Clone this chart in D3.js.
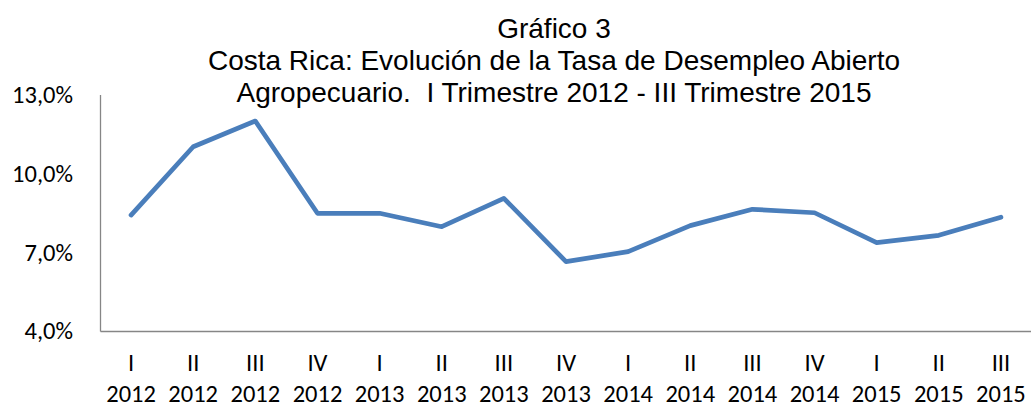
<!DOCTYPE html>
<html>
<head>
<meta charset="utf-8">
<script src="https://cdn.jsdelivr.net/npm/d3@7"></script>
<style>
  html, body { margin: 0; padding: 0; background: #ffffff; }
  svg { display: block; }
</style>
</head>
<body>
<svg id="chart" width="1031" height="408"></svg>
<script>
const quarters = ["I","II","III","IV","I","II","III","IV","I","II","III","IV","I","II","III"];
const years = ["2012","2012","2012","2012","2013","2013","2013","2013","2014","2014","2014","2014","2015","2015","2015"];
const rates = [8.41, 11.01, 11.99, 8.48, 8.48, 7.97, 9.05, 6.64, 7.02, 8.01, 8.63, 8.50, 7.36, 7.64, 8.33];
const yTicks = [4, 7, 10, 13];
const titleLines = ["Gráfico 3", "Costa Rica: Evolución de la Tasa de Desempleo Abierto", "Agropecuario.  I Trimestre 2012 - III Trimestre 2015"];

const svg = d3.select("#chart");
const plotLeft = 100, plotRight = 1032, plotTop = 94.5, plotBottom = 331;
const idx = d3.range(rates.length);

const x = d3.scaleBand().domain(idx).range([plotLeft, plotRight]).paddingInner(0).paddingOuter(0);
const y = d3.scaleLinear().domain([4, 13]).range([plotBottom, plotTop]);
const cx = i => x(i) + x.bandwidth() / 2;

// title
svg.append("g").selectAll("text").data(titleLines).join("text")
  .attr("x", 554)
  .attr("y", (d, i) => 38 + i * 31.8)
  .attr("text-anchor", "middle")
  .style("font-family", "'Liberation Sans', Arial, sans-serif")
  .style("font-size", "28px")
  .style("white-space", "pre")
  .attr("fill", "#000")
  .text(d => d);

// y axis
const yAxis = d3.axisLeft(y).tickValues(yTicks).tickSize(0).tickPadding(27)
  .tickFormat(d => d3.format(".1f")(d).replace(".", ",") + "%");
const gy = svg.append("g").attr("transform", `translate(${plotLeft},0)`).call(yAxis);
gy.select(".domain").attr("stroke", "#868686").attr("stroke-width", 1.3);
gy.selectAll("text")
  .style("font-family", "Carlito, Lato, sans-serif")
  .style("font-size", "24.5px")
  .attr("fill", "#000");

// x axis
const xAxis = d3.axisBottom(x).tickSize(0).tickFormat(() => "");
const gx = svg.append("g").attr("transform", `translate(0,${plotBottom})`).call(xAxis);
gx.select(".domain").attr("stroke", "#868686").attr("stroke-width", 1.3);

const lab = svg.append("g");
lab.selectAll("text.q").data(idx).join("text").attr("class", "q")
  .attr("x", d => cx(d)).attr("y", 371)
  .attr("text-anchor", "middle")
  .style("font-family", "Carlito, Lato, sans-serif")
  .style("font-size", "24.5px")
  .text(d => quarters[d]);
lab.selectAll("text.yr").data(idx).join("text").attr("class", "yr")
  .attr("x", d => cx(d)).attr("y", 401.5)
  .attr("text-anchor", "middle")
  .style("font-family", "Carlito, Lato, sans-serif")
  .style("font-size", "24.5px")
  .text(d => years[d]);

// line
const line = d3.line().x((d, i) => cx(i)).y(d => y(d));
svg.append("path").datum(rates)
  .attr("d", line)
  .attr("fill", "none")
  .attr("stroke", "#4a7ebb")
  .attr("stroke-width", 4.7)
  .attr("stroke-linejoin", "round")
  .attr("stroke-linecap", "round");
</script>
</body>
</html>
